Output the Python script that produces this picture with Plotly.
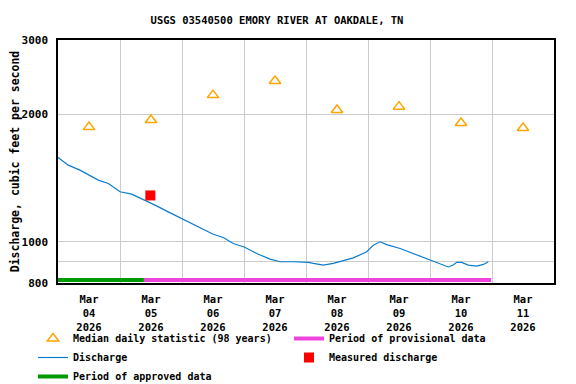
import plotly.graph_objects as go

title = "USGS 03540500 EMORY RIVER AT OAKDALE, TN"

# Median daily statistic (98 years), plotted at noon of each day
median_dates = ["2026-03-04 12:00", "2026-03-05 12:00", "2026-03-06 12:00", "2026-03-07 12:00",
                "2026-03-08 12:00", "2026-03-09 12:00", "2026-03-10 12:00", "2026-03-11 12:00"]
median_values = [1868, 1941, 2223, 2400, 2050, 2088, 1910, 1858]

# Discharge
q_times = ["2026-03-04 00:00", "2026-03-04 04:00", "2026-03-04 08:30", "2026-03-04 11:45",
           "2026-03-04 15:35", "2026-03-04 19:30", "2026-03-05 00:00", "2026-03-05 04:30",
           "2026-03-05 09:40", "2026-03-05 13:35", "2026-03-05 18:40", "2026-03-06 00:30",
           "2026-03-06 04:20", "2026-03-06 08:15", "2026-03-06 12:05", "2026-03-06 16:00",
           "2026-03-06 19:50", "2026-03-07 00:05", "2026-03-07 04:55", "2026-03-07 10:05",
           "2026-03-07 14:00", "2026-03-07 19:05", "2026-03-08 00:55", "2026-03-08 02:50",
           "2026-03-08 06:40", "2026-03-08 10:35", "2026-03-08 14:25", "2026-03-08 18:20",
           "2026-03-08 23:30", "2026-03-09 02:05", "2026-03-09 04:40", "2026-03-09 07:15",
           "2026-03-09 12:25", "2026-03-09 17:30", "2026-03-09 23:20", "2026-03-10 03:50",
           "2026-03-10 07:05", "2026-03-10 09:00", "2026-03-10 10:20", "2026-03-10 12:15",
           "2026-03-10 14:50", "2026-03-10 18:05", "2026-03-10 20:40", "2026-03-10 22:35"]
q_values = [1584, 1519, 1478, 1439, 1400, 1375, 1314, 1297, 1256, 1222, 1178, 1130,
            1102, 1072, 1043, 1025, 992, 973, 939, 911, 898, 898, 895, 890,
            882, 890, 904, 917, 948, 983, 1001, 986, 965, 939, 911, 890,
            873, 882, 895, 895, 882, 877, 885, 898]

# Measured discharge
meas_times = ["2026-03-05 11:45"]
meas_values = [1288]

# Data-approval periods (drawn along the bottom of the plot)
approved_span = ["2026-03-04 00:00", "2026-03-05 09:15"]
provisional_span = ["2026-03-05 09:15", "2026-03-10 23:40"]
bar_level = 813

tick_dates = median_dates
tick_text = ["Mar<br>04<br>2026", "Mar<br>05<br>2026", "Mar<br>06<br>2026", "Mar<br>07<br>2026",
             "Mar<br>08<br>2026", "Mar<br>09<br>2026", "Mar<br>10<br>2026", "Mar<br>11<br>2026"]
day_bounds = ["2026-03-05", "2026-03-06", "2026-03-07", "2026-03-08",
              "2026-03-09", "2026-03-10", "2026-03-11"]

FONT = "DejaVu Sans Mono"

# the page body adds an 8px offset; figure is sized to fit the 576x384 window
W, H = 568, 376
L, T, R, B = 50, 32, 22, 101
PW, PH = W - L - R, H - T - B

fig = go.Figure()
fig.add_trace(go.Scatter(x=median_dates, y=median_values, mode="markers",
                         name="Median daily statistic (98 years)", legendrank=1,
                         marker=dict(symbol="triangle-up-open", size=10, color="#ffa500",
                                     line=dict(width=1.5, color="#ffa500"))))
fig.add_trace(go.Scatter(x=provisional_span, y=[bar_level, bar_level], mode="lines",
                         name="Period of provisional data", legendrank=2,
                         line=dict(color="#ee44dd", width=4)))
fig.add_trace(go.Scatter(x=q_times, y=q_values, mode="lines", name="Discharge", legendrank=3,
                         line=dict(color="#0a7ccd", width=1.2)))
fig.add_trace(go.Scatter(x=meas_times, y=meas_values, mode="markers", name="Measured discharge",
                         legendrank=4,
                         marker=dict(symbol="square", size=10, color="#ff0000")))
fig.add_trace(go.Scatter(x=approved_span, y=[bar_level, bar_level], mode="lines",
                         name="Period of approved data", legendrank=5,
                         line=dict(color="#009900", width=4)))

fig.update_layout(
    width=W, height=H,
    margin=dict(l=L, r=R, t=T, b=B, autoexpand=False),
    paper_bgcolor="white", plot_bgcolor="white",
    font=dict(family=FONT, size=10, color="black", weight="bold"),
    title=dict(text=title, x=269 / W, xanchor="center", xref="container",
               y=1 - 12 / H, yanchor="middle", yref="container",
               font=dict(family=FONT, size=10.5, color="black", weight="bold")),
    showlegend=True,
    legend=dict(orientation="h", x=(25 - L) / PW, xanchor="left",
                y=-(316 - (T + PH)) / PH, yanchor="top",
                entrywidth=211, entrywidthmode="pixels", traceorder="normal",
                font=dict(family=FONT, size=10, color="black", weight="bold"),
                itemwidth=30, tracegroupgap=0, bgcolor="rgba(0,0,0,0)", borderwidth=0),
    xaxis=dict(type="date", range=["2026-03-04 00:00", "2026-03-12 00:00"],
               tickvals=tick_dates, ticktext=tick_text, ticks="", showgrid=False,
               showline=True, linecolor="black", linewidth=1.5, mirror=True,
               automargin=False, ticklabelstandoff=6,
               tickfont=dict(family=FONT, size=10.5, color="black", weight="bold"),
               minor=dict(tickvals=day_bounds, showgrid=True, gridcolor="#cccccc",
                          gridwidth=1, ticks=""),
               zeroline=False),
    yaxis=dict(type="log", range=[2.90309, 3.47712],
               tickvals=[800, 900, 1000, 2000, 3000],
               ticktext=["800", "", "1000", "2000", "3000"],
               showgrid=True, gridcolor="#cccccc", gridwidth=1, ticks="",
               showline=True, linecolor="black", linewidth=1.5, mirror=True,
               automargin=False, ticklabelstandoff=6,
               tickfont=dict(family=FONT, size=11, color="black", weight="bold"),
               title=dict(text="Discharge, cubic feet per second", standoff=4,
                          font=dict(family=FONT, size=11.5, color="black", weight="bold")),
               zeroline=False),
)

fig.write_html("out.html")
